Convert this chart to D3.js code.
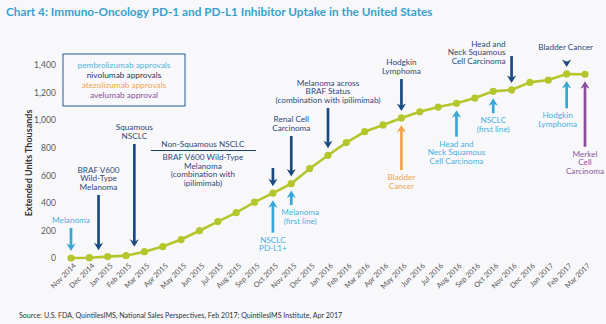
<!DOCTYPE html>
<html>
<head>
<meta charset="utf-8">
<script src="https://cdn.jsdelivr.net/npm/d3@7"></script>
<style>
  html, body { margin: 0; padding: 0; background: #f8f8fa; }
  svg { display: block; }
  text { font-family: Lato, "Open Sans", sans-serif; }
</style>
</head>
<body>
<svg id="chart" width="606" height="324"></svg>
<script>
// Monthly extended units (thousands), PD-1 / PD-L1 inhibitors, US
const months = [
  "Nov 2014", "Dec 2014", "Jan 2015", "Feb 2015", "Mar 2015", "Apr 2015", "May 2015",
  "Jun 2015", "Jul 2015", "Aug 2015", "Sep 2015", "Oct 2015", "Nov 2015", "Dec 2015",
  "Jan 2016", "Feb 2016", "Mar 2016", "Apr 2016", "May 2016", "Jun 2016", "Jul 2016",
  "Aug 2016", "Sep 2016", "Oct 2016", "Nov 2016", "Dec 2016", "Jan 2017", "Feb 2017", "Mar 2017"
];
const uptake = [
  0, 2, 10, 17, 46, 83, 134,
  198, 264, 329, 405, 470, 540, 648,
  745, 837, 916, 965, 1016, 1061, 1095,
  1122, 1160, 1209, 1219, 1274, 1291, 1335, 1333
];
const yTicks = [0, 200, 400, 600, 800, 1000, 1200, 1400];

// FDA approvals: month position (index into months), arrow tail level (thousands), label lines
const drugs = ["pembrolizumab", "nivolumab", "atezolizumab", "avelumab"];
const legendLabels = ["pembrolizumab approvals", "nivolumab approvals", "atezolizumab approvals", "avelumab approval"];
const approvals = [
  { drug: "pembrolizumab", at: 0,    tail: 218,  lines: ["Melanoma"] },
  { drug: "nivolumab",     at: 1.5,  tail: 457,  lines: ["BRAF V600", "Wild-Type", "Melanoma"] },
  { drug: "nivolumab",     at: 3.45, tail: 827,  lines: ["Squamous", "NSCLC"] },
  { drug: "nivolumab",     at: 11,   tail: 653,  lines: [] },
  { drug: "nivolumab",     at: 12,   tail: 885,  lines: ["Renal Cell", "Carcinoma"] },
  { drug: "nivolumab",     at: 14,   tail: 1088, lines: ["Melanoma across", "BRAF Status", "(combination with ipilimimab)"] },
  { drug: "nivolumab",     at: 18,   tail: 1298, lines: ["Hodgkin", "Lymphoma"] },
  { drug: "nivolumab",     at: 24,   tail: 1465, lines: ["Head and", "Neck Squamous", "Cell Carcinoma"] },
  { drug: "nivolumab",     at: 27,   tail: 1424, lines: ["Bladder Cancer"] },
  { drug: "pembrolizumab", at: 11,   tail: 184,  lines: ["NSCLC", "PD-L1+"] },
  { drug: "pembrolizumab", at: 12,   tail: 384,  lines: ["Melanoma", "(first line)"] },
  { drug: "pembrolizumab", at: 21,   tail: 880,  lines: ["Head and", "Neck Squamous", "Cell Carcinoma"] },
  { drug: "pembrolizumab", at: 23,   tail: 1050, lines: ["NSCLC", "(first line)"] },
  { drug: "pembrolizumab", at: 27,   tail: 1086, lines: ["Hodgkin", "Lymphoma"] },
  { drug: "atezolizumab",  at: 18,   tail: 638,  lines: ["Bladder", "Cancer"] },
  { drug: "avelumab",      at: 28,   tail: 807,  lines: ["Merkel", "Cell", "Carcinoma"] }
];
// Combined nivolumab note for the October 2015 arrow
const comboHeading = "Non-Squamous NSCLC";
const comboLines = ["BRAF V600 Wild-Type", "Melanoma", "(combination with", "ipilimimab)"];

// ---- layout / style ----
const arrowColor = { pembrolizumab: "#37a7d8", nivolumab: "#1b4a80", atezolizumab: "#f2a349", avelumab: "#8b4e9b" };
const textColor  = { pembrolizumab: "#48afdf", nivolumab: "#2e4a78", atezolizumab: "#f0a551", avelumab: "#8c579d" };
const legendColor = { pembrolizumab: "#4fb3e0", nivolumab: "#2b3552", atezolizumab: "#f2a54f", avelumab: "#8a4f95" };
const lineColor = "#b4c62c";
const labelShift = {
  7:  { dx: -6, dy: 13, anchor: "end" },
  8:  { dx: -1, dy: -7 },
  10: { dx: 9 },
  13: { dx: -9 }
};
const lineH = 8.7;
const fs = 8.2;

const svg = d3.select("#chart");

const x = d3.scalePoint().domain(months).range([71, 585]);
const y = d3.scaleLinear().domain([0, 1400]).range([258, 65]);
const xAt = i => x(months[0]) + i * x.step();
const valueAt = i => {
  const a = Math.floor(i), b = Math.min(a + 1, uptake.length - 1), t = i - a;
  return uptake[a] * (1 - t) + uptake[b] * t;
};

// Title
svg.append("text")
  .attr("x", 6).attr("y", 16)
  .attr("fill", "#3a9fcb")
  .attr("font-size", 11.8).attr("font-weight", 700)
  .text("Chart 4: Immuno-Oncology PD-1 and PD-L1 Inhibitor Uptake in the United States");

// Y axis (labels only)
const yAxis = d3.axisLeft(y).tickValues(yTicks).tickSize(0).tickPadding(0)
  .tickFormat(d3.format(","));
const gy = svg.append("g").attr("transform", "translate(56,0)").call(yAxis);
gy.select(".domain").remove();
gy.selectAll("text").attr("fill", "#5a5a5a").attr("font-size", 8.6).attr("dy", "0.32em")
  .style("font-family", "Lato, sans-serif");

svg.append("text")
  .attr("transform", "translate(32,163) rotate(-90)")
  .attr("text-anchor", "middle")
  .attr("fill", "#333")
  .attr("font-size", 9).attr("font-weight", 700)
  .text("Extended Units Thousands");

// X axis (rotated month labels)
const xAxis = d3.axisBottom(x).tickSize(0).tickPadding(0);
const gx = svg.append("g").attr("transform", "translate(0,263)").call(xAxis);
gx.select(".domain").remove();
gx.selectAll("text")
  .attr("fill", "#555").attr("font-size", 7.4)
  .attr("text-anchor", "end")
  .attr("dy", "0.6em").attr("dx", "0")
  .attr("transform", "translate(2,0) rotate(-45)")
  .style("font-family", "Lato, sans-serif");

// Legend
const lg = svg.append("g");
lg.append("rect").attr("x", 63).attr("y", 54).attr("width", 122).attr("height", 52)
  .attr("fill", "none").attr("stroke", "#3566a0").attr("stroke-width", 1.1);
lg.selectAll("text").data(drugs).join("text")
  .attr("x", 124).attr("y", (d, i) => 68 + i * 9.9)
  .attr("text-anchor", "middle").attr("font-size", 8.3)
  .attr("fill", d => legendColor[d])
  .text((d, i) => legendLabels[i]);

// Uptake line and points
svg.append("path").datum(uptake)
  .attr("fill", "none").attr("stroke", lineColor).attr("stroke-width", 2.6)
  .attr("d", d3.line().x((d, i) => x(months[i])).y(d => y(d)));
svg.selectAll("circle.pt").data(uptake).join("circle")
  .attr("class", "pt")
  .attr("cx", (d, i) => x(months[i])).attr("cy", d => y(d))
  .attr("r", 3.6).attr("fill", lineColor);

// Approval arrows
function arrow(g, xp, y0, y1, color) {
  const dir = Math.sign(y1 - y0);
  g.append("line").attr("x1", xp).attr("x2", xp)
    .attr("y1", y0).attr("y2", y1 - dir * 4)
    .attr("stroke", color).attr("stroke-width", 2.7);
  g.append("path")
    .attr("d", `M${xp},${y1} L${xp - 4.6},${y1 - dir * 7.5} L${xp},${y1 - dir * 5.2} L${xp + 4.6},${y1 - dir * 7.5} Z`)
    .attr("fill", color);
}

const ag = svg.append("g");
approvals.forEach((a, k) => {
  const xp = xAt(a.at);
  const down = a.tail > valueAt(a.at);
  const y0 = y(a.tail);
  const y1 = y(valueAt(a.at)) + (down ? -7 : 7);
  arrow(ag, xp, y0, y1, arrowColor[a.drug]);

  const s = labelShift[k] || {};
  const n = a.lines.length;
  if (!n) return;
  const firstBase = down ? y0 - 5 - (n - 1) * lineH : y0 + 10;
  ag.append("text")
    .attr("text-anchor", s.anchor || "middle")
    .attr("font-size", fs).attr("fill", textColor[a.drug])
    .selectAll("tspan").data(a.lines).join("tspan")
    .attr("x", xp + (s.dx || 0))
    .attr("y", (d, i) => firstBase + (s.dy || 0) + i * lineH)
    .text(d => d);
});

// Combined note for the October 2015 nivolumab approvals
const cx = xAt(11) - 70;
ag.append("text").attr("x", cx).attr("y", 147).attr("text-anchor", "middle")
  .attr("font-size", fs).attr("fill", textColor.nivolumab).text(comboHeading);
ag.append("line").attr("x1", xAt(11) - 122).attr("x2", xAt(11) - 17)
  .attr("y1", 150.5).attr("y2", 150.5)
  .attr("stroke", "#1b3e6a").attr("stroke-width", 1);
ag.append("text").attr("text-anchor", "middle").attr("font-size", fs).attr("fill", textColor.nivolumab)
  .selectAll("tspan").data(comboLines).join("tspan")
  .attr("x", cx).attr("y", (d, i) => 160 + i * lineH).text(d => d);

// Source
svg.append("text")
  .attr("x", 19).attr("y", 318)
  .attr("font-size", 7.1).attr("fill", "#333")
  .text("Source: U.S. FDA, QuintilesIMS, National Sales Perspectives, Feb 2017; QuintilesIMS Institute, Apr 2017");
</script>
</body>
</html>
